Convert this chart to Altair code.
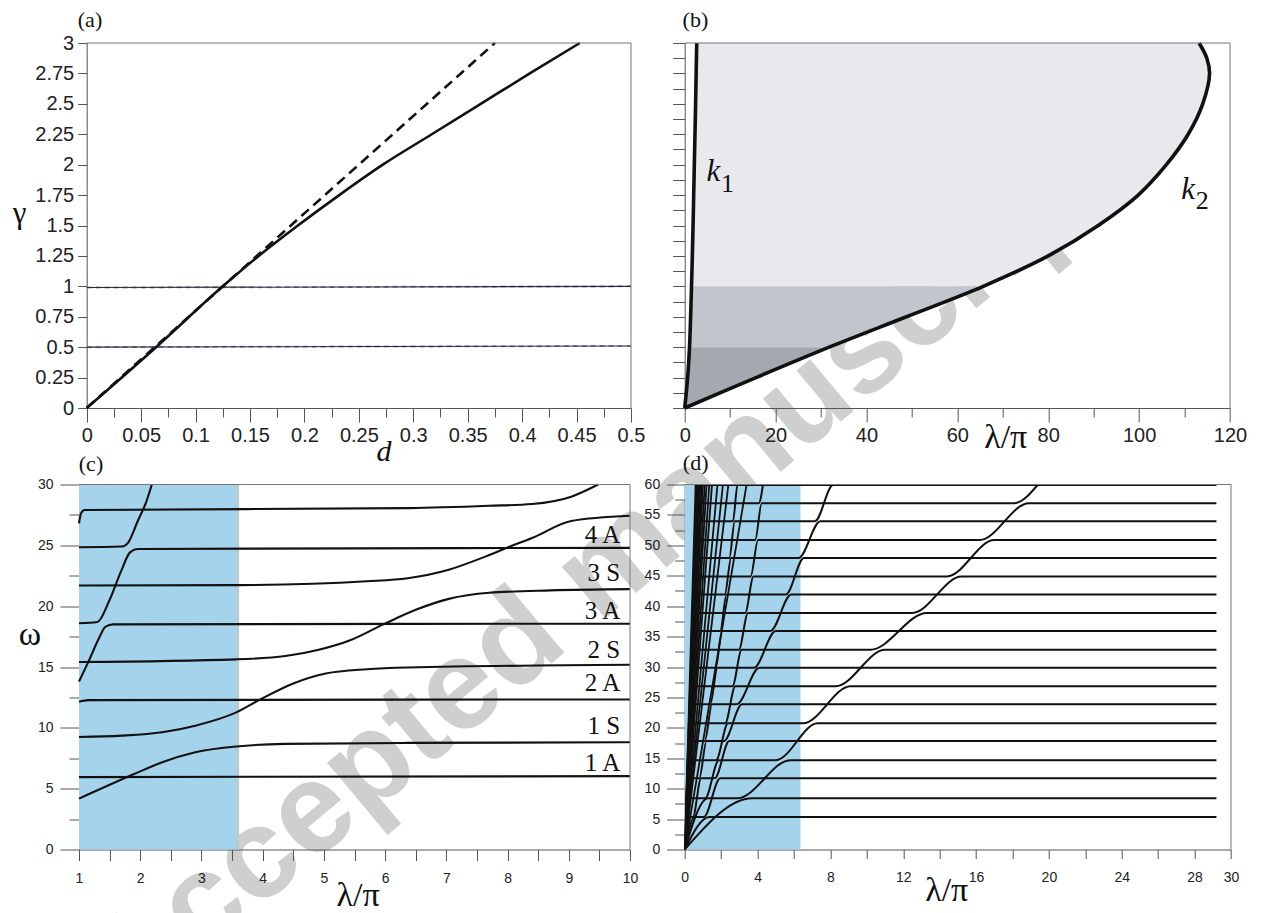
import altair as alt
import pandas as pd

SANS = "Liberation Sans"
SERIF = "Liberation Serif"
AXC = "#555555"
LBL = "#222222"
INK = "#111111"

# ---------------- panel (a) data ----------------
a_solid_d = [0.0, 0.0637, 0.125, 0.158, 0.194, 0.232, 0.272, 0.317, 0.362, 0.407, 0.453]
a_solid_g = [0.0, 0.5, 1.0, 1.25, 1.5, 1.75, 2.0, 2.25, 2.5, 2.75, 3.0]
a_dash_d = [0.0, 0.375]
a_dash_g = [0.0, 3.0]
a_h_d = [0.0, 0.5]
a_h05_g = [0.5, 0.51]
a_h1_g = [0.99, 1.0]
a_xticks = [0, 0.025, 0.05, 0.075, 0.1, 0.125, 0.15, 0.175, 0.2, 0.225, 0.25, 0.275,
            0.3, 0.325, 0.35, 0.375, 0.4, 0.425, 0.45, 0.475, 0.5]
a_yticks = [0, 0.25, 0.5, 0.75, 1, 1.25, 1.5, 1.75, 2, 2.25, 2.5, 2.75, 3]

# ---------------- panel (b) data ----------------
b_gamma = [0.0, 0.25, 0.5, 0.75, 1.0, 1.25, 1.5, 1.75, 2.0, 2.25, 2.5, 2.75, 2.875, 3.0]
b_k1 = [0.0, 0.65, 1.06, 1.3, 1.5, 1.68, 1.84, 1.98, 2.12, 2.26, 2.4, 2.52, 2.58, 2.65]
b_k2 = [0.0, 15.7, 31.8, 48.8, 65.7, 80.0, 91.0, 99.8, 106.0, 110.8, 114.0, 115.5, 114.9, 113.2]
b_xticks = [0, 10, 20, 30, 40, 50, 60, 70, 80, 90, 100, 110, 120]
b_yticks = [0, 0.125, 0.25, 0.375, 0.5, 0.625, 0.75, 0.875, 1, 1.125, 1.25, 1.375, 1.5,
            1.625, 1.75, 1.875, 2, 2.125, 2.25, 2.375, 2.5, 2.625, 2.75, 2.875, 3]

# ---------------- panel (c) data ----------------
c_curves = [
    ([1, 10], [5.95, 6.03]),
    ([1, 1.15, 10], [12.15, 12.28, 12.33]),
    ([1, 1.9, 2.36, 2.9, 3.57, 4.37, 6.37, 10], [4.18, 6.2, 7.18, 8.0, 8.47, 8.68, 8.76, 8.82]),
    ([1, 1.7, 2.36, 2.9, 3.57, 3.97, 4.5, 5.03, 5.7, 6.37, 10],
     [9.25, 9.36, 9.64, 10.18, 11.27, 12.36, 13.65, 14.47, 14.82, 14.96, 15.18]),
    ([1, 3.57, 4.37, 4.9, 5.43, 5.97, 6.5, 7.04, 7.7, 8.7, 10],
     [15.41, 15.63, 15.9, 16.4, 17.2, 18.5, 19.7, 20.6, 21.1, 21.3, 21.4]),
    ([1, 3.57, 5.7, 6.37, 7.04, 7.7, 8.04, 8.4, 9.04, 10],
     [21.7, 21.73, 22.05, 22.3, 23.0, 24.2, 24.9, 25.6, 27.0, 27.43]),
    ([1, 1.16, 1.33, 1.43, 1.56, 10], [13.8, 15.5, 17.4, 18.3, 18.5, 18.56]),
    ([1, 1.3, 1.49, 1.69, 1.83, 1.96, 10], [18.6, 18.7, 20.4, 22.9, 24.4, 24.7, 24.79]),
    ([1, 1.7, 1.8, 1.96, 2.1, 2.19], [24.84, 24.9, 25.2, 27.0, 28.6, 30.0]),
    ([1, 1.03, 1.09, 6.37, 7.7, 8.4, 9.04, 9.48], [26.8, 27.6, 27.9, 28.06, 28.25, 28.4, 29.0, 30.0]),
]
c_blue = [1.0, 3.6]
c_labels = ["4 A", "3 S", "3 A", "2 S", "2 A", "1 S", "1 A"]
c_label_w = [25.82, 22.74, 19.6, 16.4, 13.67, 10.13, 7.12]
c_label_x = 9.84
c_xticks = [1, 1.5, 2, 2.5, 3, 3.5, 4, 4.5, 5, 5.5, 6, 6.5, 7, 7.5, 8, 8.5, 9, 9.5, 10]
c_yticks = [0, 2.5, 5, 7.5, 10, 12.5, 15, 17.5, 20, 22.5, 25, 27.5, 30]

# ---------------- panel (d) data ----------------
# plateau levels of the two mode families (S and A), read off the right side
d_levels_S = [8.42, 14.69, 20.74, 26.84, 32.84, 38.89, 44.88, 50.88, 56.93]
d_levels_A = [5.34, 11.72, 17.82, 23.87, 29.87, 35.92, 41.91, 47.91, 53.96, 59.9]
# lambda/pi where each rising (diagonal) mode meets each plateau; last entry = exit at top edge
d_cross_S1 = [3.3, 5.4, 6.9, 8.7, 10.6, 12.9, 14.8, 16.6, 18.5, 19.4]
d_cross_S2 = [1.2, 1.8, 2.3, 2.7, 3.05, 3.4, 3.7, 3.95, 4.15, 4.3]
d_cross_A1 = [1.2, 1.8, 2.3, 3.0, 3.95, 4.85, 5.7, 6.4, 7.3, 8.0, 8.1]
d_cross_A2 = [0.5, 0.85, 1.15, 1.45, 1.75, 2.0, 2.25, 2.5, 2.7, 2.85, 2.95]
# half-width (in lambda/pi) of the avoided crossings of each rising mode
d_gap_S = [0.4, 0.08]
d_gap_A = [0.15, 0.05]
# where plateaus emerge from the dense fan near the origin
d_start_S = [0.15, 0.2, 0.25, 0.3, 0.36, 0.42, 0.48, 0.52, 0.58]
d_start_A = [0.1, 0.17, 0.22, 0.28, 0.33, 0.4, 0.45, 0.5, 0.55, 0.6]
d_plateau_end = 29.2
# steep modes of the fan: lambda/pi where they reach the top edge
d_fan_top = [0.6, 0.65, 0.7, 0.75, 0.8, 0.86, 0.93, 1.0, 1.1, 1.2, 1.35, 1.5, 1.8, 2.1, 2.4, 3.4]
d_blue = [0.0, 6.36]
d_xticks = [0, 2, 4, 6, 8, 10, 12, 14, 16, 18, 20, 22, 24, 26, 28, 30]
d_yticks = [0, 2.5, 5, 7.5, 10, 12.5, 15, 17.5, 20, 22.5, 25, 27.5, 30, 32.5, 35, 37.5,
            40, 42.5, 45, 47.5, 50, 52.5, 55, 57.5, 60]

WATERMARK = "Accepted manuscript"


# ---------------- helpers ----------------
def mult(k):
    return f"abs(datum.value/{k} - round(datum.value/{k})) < 0.000001"


def mk_axis(values, label_test, major_test, tmaj, tmin, fsize, pad, offset=0):
    kw = dict(values=values, title=None, grid=False,
              labelFont=SANS, labelFontSize=fsize, labelColor=LBL,
              domainColor=AXC, tickColor=AXC, domainWidth=1, tickWidth=1,
              labelPadding=pad, labelFlush=False, labelOverlap=False, labelBound=False)
    if offset:
        kw["offset"] = offset
    if label_test is None:
        kw["labels"] = False
    elif label_test == "all":
        kw["labelExpr"] = "'' + datum.value"
    else:
        kw["labelExpr"] = f"({label_test}) ? '' + datum.value : ''"
    if major_test is None:
        kw["tickSize"] = tmin
    else:
        kw["tickSize"] = {"condition": {"test": major_test, "value": tmaj}, "value": tmin}
    return alt.Axis(**kw)


def lines_df(curves):
    rows = []
    for cid, (xs, ys) in enumerate(curves):
        for i, (xv, yv) in enumerate(zip(xs, ys)):
            rows.append({"x": xv, "y": yv, "cid": cid, "o": i})
    return pd.DataFrame(rows)


def frame_df(xmin, xmax, ymin, ymax):
    return pd.DataFrame({"x": [xmin, xmax], "x2": [xmax, xmax],
                         "y": [ymax, ymin], "y2": [ymax, ymax]})


def txt(s, px, py, size, font=SERIF, style="normal", color=INK):
    return alt.Chart(pd.DataFrame({"t": [s]})).mark_text(
        text=s, font=font, fontSize=size, fontStyle=style, color=color,
        align="center", baseline="middle").encode(x=alt.value(px), y=alt.value(py))


def family_branches(levels, diags, gaps, starts, end, top=60.0):
    """Eigen-branches: plateaus joined by the rising modes at their (avoided) crossings."""
    n, m = len(levels), len(diags)
    lx = list(levels) + [top]

    def arrive(k, i):
        return diags[k][i] + (gaps[k] if i < n else 0.0)

    out = []
    for j in range(1, n + m + 1):
        if j <= m:
            pts = [(0.0, 0.0), (arrive(j - 1, 0), lx[0])]
            i = 0
        else:
            s = j - m - 1
            if s >= n:
                break
            pts = [(starts[s], lx[s])]
            i = s
        while i <= j - 2 and i < n:
            kk = j - i - 2
            pts.append((diags[kk][i] - gaps[kk], lx[i]))
            pts.append((arrive(kk, i + 1), lx[i + 1]))
            i += 1
        if i < n:
            pts.append((end, lx[i]))
        out.append(([p[0] for p in pts], [p[1] for p in pts]))
    return out


# ---------------- panel (a) ----------------
WA, HA = 552, 365
XA0 = 7.7
xa = alt.X("x:Q", scale=alt.Scale(domain=[0, 0.5], range=[XA0, WA], nice=False, zero=False),
           axis=mk_axis(a_xticks, mult(0.05), mult(0.05), 14, 9, 20, 3))
ya = alt.Y("y:Q", scale=alt.Scale(domain=[0, 3], nice=False, zero=False),
           axis=mk_axis(a_yticks, "all", None, 9, 9, 20, 4, offset=-XA0))

wm = alt.Chart(pd.DataFrame({"t": [WATERMARK]})).mark_text(
    text=WATERMARK, font=SANS, fontWeight="bold", fontSize=128, color="#cfcfcf",
    angle=320.1, align="center", baseline="middle").encode(x=alt.value(525), y=alt.value(527))

marker = alt.Chart(pd.DataFrame({"t": [0]})).mark_rule(stroke="white", strokeOpacity=0).encode(
    x=alt.value(-71), y=alt.value(-34.5), y2=alt.value(-33.5))

a_h_df = pd.concat([
    pd.DataFrame({"x": a_h_d, "y": a_h05_g, "cid": 0}),
    pd.DataFrame({"x": a_h_d, "y": a_h1_g, "cid": 1})])

pa = alt.layer(
    marker,
    wm,
    alt.Chart(a_h_df).mark_line(color="#9a9ad0", strokeWidth=2, strokeDash=[5, 4]).encode(
        x=xa, y=ya, detail="cid:N"),
    alt.Chart(a_h_df).mark_line(color="#2a2a35", strokeWidth=1.1).encode(x=xa, y=ya, detail="cid:N"),
    alt.Chart(pd.DataFrame({"x": a_dash_d, "y": a_dash_g})).mark_line(
        color=INK, strokeWidth=2.6, strokeDash=[10, 6]).encode(x=xa, y=ya),
    alt.Chart(pd.DataFrame({"x": a_solid_d, "y": a_solid_g})).mark_line(
        color=INK, strokeWidth=2.6, interpolate="monotone").encode(x=xa, y=ya),
    alt.Chart(frame_df(0, 0.5, 0, 3)).mark_rule(color="#777777", strokeWidth=1).encode(
        x=xa, x2="x2:Q", y=ya, y2="y2:Q"),
    txt("(a)", 11, -23.5, 22),
    txt("γ", -59.4, 170.5, 31),
    txt("d", 305, 408.5, 30, style="italic"),
).properties(width=WA, height=HA)

# ---------------- panel (b) ----------------
WB, HB = 545.3, 365
xb_scale = alt.Scale(domain=[0, 120], nice=False, zero=False)
xb_axis = mk_axis(b_xticks, mult(20), mult(20), 14, 9, 20, 3)
xb = alt.X("x:Q", scale=xb_scale, axis=xb_axis)
yb = alt.Y("y:Q", scale=alt.Scale(domain=[0, 3], nice=False, zero=False),
           axis=mk_axis(b_yticks, None, None, 12, 12, 12, 2))

b_df = pd.DataFrame({"y": b_gamma, "k1": b_k1, "k2": b_k2})


def band(lo, hi, color):
    sub = b_df[(b_df.y >= lo - 1e-9) & (b_df.y <= hi + 1e-9)]
    return alt.Chart(sub).mark_area(orient="horizontal", color=color, interpolate="monotone").encode(
        y=yb, x=alt.X("k1:Q", scale=xb_scale, axis=xb_axis), x2="k2:Q")


k_lines = pd.concat([
    pd.DataFrame({"x": b_k1, "y": b_gamma, "cid": 0, "o": list(range(len(b_gamma)))}),
    pd.DataFrame({"x": b_k2, "y": b_gamma, "cid": 1, "o": list(range(len(b_gamma)))})])

b_lab = pd.DataFrame({"x": [6.3, 110.8], "y": [1.94, 1.79], "t": ["k", "k"]})
b_sub = pd.DataFrame({"x": [9.4, 113.9], "y": [1.84, 1.70], "t": ["1", "2"]})

pb = alt.layer(
    band(1.0, 3.0, "#e8e9ed"),
    band(0.5, 1.0, "#c1c5cc"),
    band(0.0, 0.5, "#a4a9b0"),
    alt.Chart(k_lines).mark_line(color=INK, strokeWidth=3.6, interpolate="catmull-rom").encode(
        x=xb, y=yb, detail="cid:N", order="o:Q"),
    alt.Chart(b_lab).mark_text(font=SERIF, fontSize=31, fontStyle="italic", color=INK).encode(
        x=xb, y=yb, text="t:N"),
    alt.Chart(b_sub).mark_text(font=SERIF, fontSize=26, color=INK).encode(x=xb, y=yb, text="t:N"),
    alt.Chart(frame_df(0, 120, 0, 3)).mark_rule(color="#777777", strokeWidth=1).encode(
        x=xb, x2="x2:Q", y=yb, y2="y2:Q"),
    txt("(b)", 10.7, -23.3, 22),
    txt("λ/π", 321, 395, 34),
).properties(width=WB, height=HB)

# ---------------- panel (c) ----------------
WC, HC = 551, 365
xc = alt.X("x:Q", scale=alt.Scale(domain=[1, 10], nice=False, zero=False),
           axis=mk_axis(c_xticks, mult(1), mult(1), 11, 11, 14, 11))
yc = alt.Y("y:Q", scale=alt.Scale(domain=[0, 30], nice=False, zero=False),
           axis=mk_axis(c_yticks, mult(5), mult(5), 19, 10, 14, 7))

c_lab_df = pd.DataFrame({"x": c_label_x, "y": c_label_w, "t": c_labels})

pc = alt.layer(
    alt.Chart(pd.DataFrame({"x": [c_blue[0]], "x2": [c_blue[1]], "y": [0], "y2": [30]})).mark_rect(
        color="#a6d3ec").encode(x=xc, x2="x2:Q", y=yc, y2="y2:Q"),
    alt.Chart(pd.DataFrame({"x": [c_blue[1]], "y": [0], "y2": [30]})).mark_rule(
        color="#c6c6c6", strokeWidth=2).encode(x=xc, y=yc, y2="y2:Q"),
    alt.Chart(lines_df(c_curves)).mark_line(color=INK, strokeWidth=2.1, interpolate="monotone").encode(
        x=xc, y=yc, detail="cid:N", order="o:Q"),
    alt.Chart(c_lab_df).mark_text(font=SERIF, fontSize=25, color=INK, align="right",
                                  baseline="middle").encode(x=xc, y=yc, text="t:N"),
    alt.Chart(frame_df(1, 10, 0, 30)).mark_rule(color="#777777", strokeWidth=1).encode(
        x=xc, x2="x2:Q", y=yc, y2="y2:Q"),
    txt("(c)", 12, -21, 22),
    txt("ω", -49, 150, 34),
    txt("λ/π", 279, 411, 34),
).properties(width=WC, height=HC)

# ---------------- panel (d) ----------------
WD, HD = 546.3, 365
xd = alt.X("x:Q", scale=alt.Scale(domain=[0, 30], nice=False, zero=False),
           axis=mk_axis(d_xticks, mult(4) + " || datum.value == 30", None, 9, 9, 14, 12))
yd = alt.Y("y:Q", scale=alt.Scale(domain=[0, 60], nice=False, zero=False),
           axis=mk_axis(d_yticks, mult(5), mult(5), 18, 10, 14, 7))

d_curves = family_branches(d_levels_S, [d_cross_S1, d_cross_S2], d_gap_S, d_start_S, d_plateau_end)
d_curves += family_branches(d_levels_A, [d_cross_A1, d_cross_A2], d_gap_A, d_start_A, d_plateau_end)
d_fan = [([0, t], [0, 60]) for t in d_fan_top]

pd_ = alt.layer(
    alt.Chart(pd.DataFrame({"x": [d_blue[0]], "x2": [d_blue[1]], "y": [0], "y2": [60]})).mark_rect(
        color="#a6d3ec").encode(x=xd, x2="x2:Q", y=yd, y2="y2:Q"),
    alt.Chart(lines_df(d_fan)).mark_line(color=INK, strokeWidth=1.8, clip=True).encode(
        x=xd, y=yd, detail="cid:N", order="o:Q"),
    alt.Chart(lines_df(d_curves)).mark_line(color=INK, strokeWidth=2.0, interpolate="monotone",
                                            clip=True).encode(
        x=xd, y=yd, detail="cid:N", order="o:Q"),
    alt.Chart(frame_df(0, 30, 0, 60)).mark_rule(color="#777777", strokeWidth=1).encode(
        x=xd, x2="x2:Q", y=yd, y2="y2:Q"),
    txt("(d)", 11, -22, 22),
    txt("λ/π", 262, 406, 34),
).properties(width=WD, height=HD)

chart = alt.concat(pa, pb, pc, pd_, columns=2, spacing={"row": 76.5, "column": 53.7},
                   bounds="flush").properties(padding=0, background="white"
).configure_view(strokeOpacity=0)

chart.save("out.html", embed_options={"renderer": "svg", "actions": False})
